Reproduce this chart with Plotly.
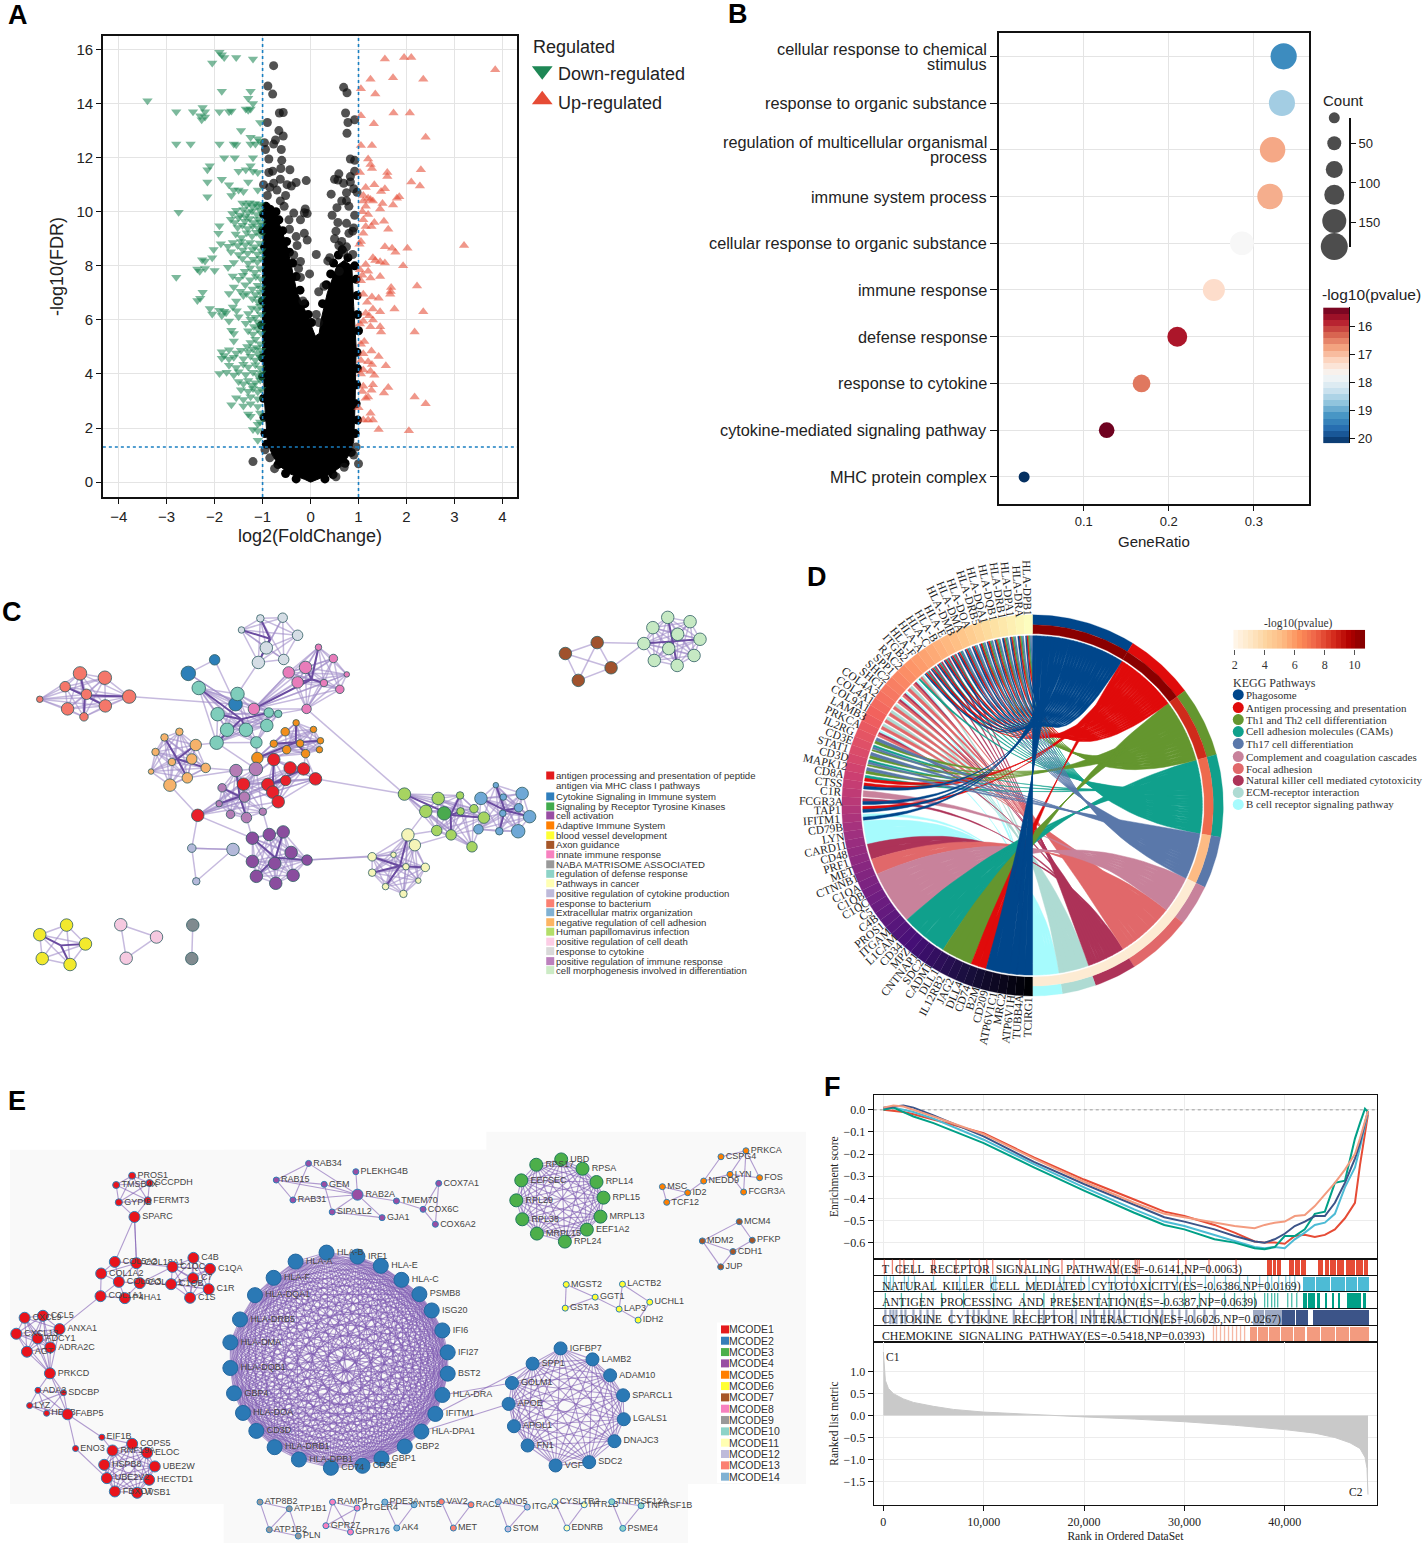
import math
import numpy as np
import plotly.graph_objects as go
from plotly.colors import sample_colorscale

W, H = 1426, 1546
SANS = "Liberation Sans"
SERIF = "Liberation Serif"

# ---------------------------------------------------------------- panel A data
black_outline_x = [0,-0.12,-0.42,-0.65,-0.8,-0.9,-0.96,-1,-1,-0.98,-0.92,-0.78,-0.62,-0.5,-0.4,-0.28,-0.1,0.02,
                   0.1,0.18,0.22,0.35,0.55,0.7,0.86,0.9,0.95,0.93,0.9,0.8,0.65,0.42,0.12,0]
black_outline_y = [0,0.1,0.3,0.6,1,1.5,3,5,8,9.5,10.3,10.2,9.4,8.8,8,7,6.3,5.8,
                   5.4,5.5,6,7,8,8.2,8,6.5,5,3,1.5,1,0.6,0.3,0.1,0]
ns_edge = [(-0.98,9.9),(-0.93,10.2),(-1,9.3),(-0.96,8.7),(-0.72,10.0),(-0.66,9.7),(-0.58,9.3),(-0.5,8.9),(-0.44,8.5),(-0.37,8.1),
    (-0.3,7.6),(-0.22,7.1),(-0.12,6.6),(-0.05,6.2),(0.02,5.9),(0.25,6.6),(0.33,7.3),(0.42,7.7),(0.48,8.1),(0.58,8.4),(0.66,8.6),
    (0.78,8.3),(0.92,8.0),(0.95,7.5),(0.97,6.9),(0.98,6.2),(1,5.6),(0.97,4.8),(0.98,4.2),(0.96,3.6),(0.95,2.9),(0.98,2.3),(0.93,1.8),
    (-1,6.7),(-1.02,5.8),(-1,4.6),(-1,3.9),(-0.98,3.1),(-0.97,2.4),(-0.95,1.8),(-0.92,1.4),(0.85,1.1),(0.72,0.7),(-0.68,0.65),
    (-0.52,0.32),(0.47,0.28),(-0.3,0.12),(0.3,0.12)]
ns_points = [(-0.77,15.4),(-0.89,14.65),(-0.79,14.35),(0.69,14.6),(0.76,14.4),(-0.57,13.67),(-0.65,13.65),(0.73,13.65),
    (-0.9,13.3),(0.78,13.3),(0.92,13.4),(-0.66,13),(-0.57,12.8),(0.76,12.9),(-0.73,12.65),(-0.96,12.55),(-0.77,12.5),
    (-0.61,12.3),(-0.94,12.3),(-0.87,11.95),(-0.6,11.9),(0.83,11.95),(0.92,11.9),(-0.43,11.55),(-0.62,11.6),(-0.79,11.5),
    (-0.87,11.45),(0.59,11.4),(0.92,11.5),(0.83,11.3),(0.5,11.2),(0.57,11.17),(-0.63,11.2),(-0.09,11.15),(-0.3,11.08),
    (-0.49,11),(-0.4,10.95),(-0.98,11),(-0.77,11.05),(0.69,11.05),(0.83,11.1),(0.9,10.85),(0.43,10.65),(0.75,10.7),
    (0.97,10.72),(-0.52,10.6),(-0.63,10.4),(0.75,10.4),(0.55,10.15),(-0.11,10.1),(-0.35,9.95),(-0.07,9.93),(-0.13,9.96),
    (0.45,9.87),(0.92,9.87),(-0.21,9.7),(0.57,9.6),(0.75,9.57),(-0.44,9.35),(0.53,9.28),(-0.13,9.2),(-0.3,9.08),(0.88,9.28),
    (0.5,9.0),(0.59,8.75),(-0.28,8.75),(-0.07,8.95),(0.12,8.42),(0.36,8.18),(0.69,8.5),(0.88,8.42),(-0.21,8.16),(-0.02,7.7),
    (-0.21,7.57),(-0.16,6.7),(0.17,7.04),(0.28,7.24),(-1.2,0.76),(1,0.68),(0.53,0.2),(0.12,6.2),(0.17,5.9),(-0.85,10.9),
    (-0.9,10.6),(-0.7,10.8),(0.8,10.2),(0.65,10.4),(0.9,9.4),(0.8,9.2),(0.65,8.9),(0.75,8.7),(-0.95,1.2),(-0.85,0.9),
    (0.95,1.3),(0.9,1.0),(-0.75,0.5),(0.7,0.55),(0.4,8.3),(0.6,7.8),(-0.35,8.4),(-0.25,7.9),(-0.45,9.7),(-0.55,10.2)]
down_points = [(-1.9,15.9),(-1.85,15.8),(-1.8,15.7),(-1.55,15.7),(-1.2,15.65),(-2.05,15.5),(-1.85,14.45),(-1.25,14.45),
    (-1.3,14.2),(-3.4,14.1),(-2.25,13.85),(-1.35,13.8),(-1.2,14.0),(-1.3,13.75),(-1.25,13.8),(-2.8,13.7),(-2.45,13.7),
    (-2.2,13.7),(-1.9,13.7),(-1.7,13.7),(-1.65,13.72),(-2.3,13.55),(-2.2,13.5),(-2.27,13.4),(-1.05,13.3),(-1.45,13.0),
    (-1.25,12.75),(-1.1,12.7),(-2.8,12.5),(-2.5,12.5),(-1.9,12.5),(-1.6,12.5),(-1.55,12.48),(-1.25,12.5),(-1.15,12.5),
    (-1.05,12.6),(-1.8,12.0),(-1.58,12.0),(-1.2,12.0),(-2.1,11.7),(-2.15,11.55),(-1.25,11.7),(-1.2,11.5),(-1.5,11.5),
    (-1.35,11.55),(-1.1,11.45),(-1.85,11.2),(-2.15,11.1),(-1.7,11.0),(-1.3,11.1),(-1.6,10.8),(-1.5,10.8),(-1.4,10.75),
    (-1.1,10.8),(-2.15,10.55),(-1.65,10.6),
    (-1.42,10.32),(-1.33,10.25),(-1.27,10.33),(-1.21,10.18),(-1.16,10.3),(-1.1,10.22),(-1.05,10.28),
    (-2.75,9.98),(-1.63,9.93),(-1.55,10.05),(-1.47,9.88),(-1.4,10.08),(-1.36,9.82),(-1.3,9.97),(-1.22,10.03),(-1.12,9.9),(-1.06,10.06),
    (-1.66,9.72),(-1.58,9.6),(-1.5,9.78),(-1.37,9.65),(-1.27,9.75),(-1.19,9.6),(-1.1,9.72),(-1.04,9.62),
    (-1.9,9.48),(-1.52,9.42),(-1.42,9.5),(-1.31,9.38),(-1.21,9.47),(-1.09,9.4),(-1.03,9.5),
    (-1.92,9.2),(-1.56,9.18),(-1.44,9.05),(-1.33,9.22),(-1.22,9.1),(-1.13,9.24),(-1.04,9.12),
    (-1.87,8.82),(-1.72,8.72),(-1.62,8.86),(-1.52,8.75),(-1.45,8.9),(-1.36,8.78),(-1.26,8.86),(-1.16,8.7),(-1.06,8.84),
    (-2.02,8.6),(-1.66,8.52),(-1.5,8.42),(-1.41,8.58),(-1.31,8.46),(-1.21,8.6),(-1.11,8.44),(-1.03,8.56),
    (-2.26,8.22),(-2.2,8.18),(-2.05,8.3),(-1.6,8.12),(-1.42,8.27),(-1.3,8.1),(-1.2,8.24),(-1.11,8.14),(-1.04,8.28),
    (-2.36,7.88),(-2.31,7.8),(-2.2,7.9),(-2.0,7.83),(-1.72,7.95),(-1.37,7.8),(-1.26,7.92),(-1.16,7.76),(-1.05,7.9),
    (-2.8,7.58),(-1.62,7.62),(-1.5,7.5),(-1.41,7.65),(-1.26,7.48),(-1.14,7.6),(-1.04,7.52),
    (-1.6,7.22),(-1.36,7.3),(-1.21,7.14),(-1.1,7.28),(-1.03,7.18),
    (-2.25,7.02),(-1.7,6.98),(-1.46,7.06),(-1.4,6.9),(-1.33,6.98),(-1.15,6.94),(-1.05,7.02),
    (-2.36,6.72),(-2.3,6.8),(-1.55,6.7),(-1.21,6.78),(-1.1,6.68),(-1.03,6.8),
    (-2.1,6.42),(-1.9,6.36),(-1.8,6.32),(-1.62,6.48),(-1.54,6.34),(-1.22,6.44),(-1.11,6.38),(-1.05,6.5),
    (-2.05,6.22),(-1.85,6.16),(-1.76,6.26),(-1.5,6.12),(-1.3,6.24),(-1.15,6.1),(-1.03,6.2),
    (-1.7,5.96),(-1.35,5.88),(-1.25,6.02),(-1.1,5.92),(-1.04,5.8),(-1.18,5.76),
    (-1.65,5.62),(-1.6,5.5),(-1.3,5.6),(-1.2,5.48),(-1.1,5.66),(-1.03,5.52),
    (-1.6,5.22),(-1.25,5.16),(-1.15,5.28),(-1.05,5.12),(-1.32,5.02),(-1.12,4.98),
    (-1.85,4.82),(-1.7,4.9),(-1.55,4.78),(-1.45,4.88),(-1.3,4.82),(-1.2,4.92),(-1.1,4.76),(-1.03,4.88),
    (-1.85,4.58),(-1.8,4.68),(-1.7,4.55),(-1.6,4.62),(-1.4,4.56),(-1.25,4.66),(-1.15,4.52),(-1.05,4.62),
    (-1.7,4.32),(-1.55,4.24),(-1.4,4.36),(-1.3,4.26),(-1.15,4.34),(-1.05,4.22),
    (-1.9,4.02),(-1.75,4.06),(-1.6,3.96),(-1.5,4.08),(-1.35,3.98),(-1.2,4.06),(-1.1,3.94),(-1.03,4.04),
    (-1.5,3.72),(-1.4,3.64),(-1.3,3.76),(-1.15,3.68),(-1.05,3.78),(-1.22,3.58),
    (-1.45,3.42),(-1.3,3.36),(-1.2,3.46),(-1.1,3.34),(-1.03,3.44),
    (-1.55,3.12),(-1.4,3.06),(-1.25,3.16),(-1.1,3.08),(-1.65,2.86),(-1.4,2.82),(-1.25,2.9),(-1.1,2.8),
    (-1.3,2.52),(-1.25,2.44),(-1.05,2.56),(-1.1,2.14),(-1.05,2.22),(-1.2,1.95),(-1.1,1.9),(-1.1,1.55)]
up_points = [(3.85,15.25),(1.55,15.65),(1.95,15.7),(2.1,15.7),(1.25,14.9),(1.72,14.95),(2.35,14.9),(1.05,14.55),(1.35,14.35),
    (1.73,13.65),(2.07,13.65),(1.05,13.55),(1.32,13.25),(2.4,12.75),(1.05,12.45),(1.28,12.45),(1.2,11.95),(1.25,11.75),(1.28,11.6),
    (2.3,11.55),(1.6,11.45),(1.6,11.3),(1.03,11.45),(2.1,11.1),(2.28,10.95),(1.15,10.9),(1.33,11.0),(1.55,10.85),(1.47,10.75),
    (1.1,10.6),(1.85,10.55),(1.8,10.5),(1.1,10.4),(1.2,10.5),(1.25,10.45),(1.5,10.3),(1.72,10.25),(1.3,10.4),(1.15,10.2),
    (1.45,10.1),(1.08,10),(1.2,9.9),(1.1,9.7),(1.33,9.6),(1.53,9.65),(1.27,9.45),(1.15,9.45),(1.62,9.35),(1.1,9.2),(1.05,8.9),
    (1.02,8.8),(1.55,8.7),(1.7,8.65),(1.77,8.5),(2.02,8.65),(3.2,8.75),(1.3,8.3),(1.35,8.2),(1.45,8.15),(1.55,8.1),(1.15,8.05),
    (1.93,8),(1.03,7.85),(1.2,7.8),(1.08,7.65),(1.25,7.55),(1.45,7.6),(1.05,7.45),(1.68,7.2),(1.67,7.05),(2.22,7.25),(1.1,6.95),
    (1.28,6.85),(1.42,6.8),(1.66,6.95),(1.18,6.65),(1.75,6.4),(1.3,6.4),(2.35,6.3),(1.15,6.25),(1.45,6.3),(1.22,6.15),(1.3,6),
    (1.1,5.95),(1.03,5.85),(1.25,5.75),(1.45,5.75),(2.17,5.55),(1.47,5.55),(1.05,5.1),(1.12,5.2),(1.27,4.85),(1.1,4.75),(1.42,4.65),
    (1.05,4.5),(1.2,4.45),(1.28,4.35),(1.57,4.3),(1.1,4.15),(1.25,4.1),(1.05,4),(1.33,3.95),(1.3,3.6),(1.1,3.55),(1.62,3.5),
    (1.27,3.4),(1.08,3.35),(1.53,3.3),(1.2,3.15),(2.17,3.15),(1.15,3.1),(2.4,2.9),(1,2.75),(1.25,2.55),(1.2,2.3),(1.1,2.3),(1.3,2.3),
    (1.42,1.95),(2.05,1.9)]

# ---------------------------------------------------------------- panel B data
go_terms = [["cellular response to chemical", "stimulus"], ["response to organic substance"],
            ["regulation of multicellular organismal", "process"], ["immune system process"],
            ["cellular response to organic substance"], ["immune response"], ["defense response"],
            ["response to cytokine"], ["cytokine-mediated signaling pathway"], ["MHC protein complex"]]
go_ratio = [0.335, 0.333, 0.322, 0.319, 0.286, 0.253, 0.21, 0.168, 0.127, 0.03]
go_count = [172, 171, 165, 164, 147, 130, 108, 86, 65, 18]
go_logp = [19.3, 18.6, 16.8, 16.85, 17.75, 17.3, 15.75, 16.45, 15.35, 20.2]
count_legend = [18, 50, 83, 115, 148, 180]

# ---------------------------------------------------------------- panel C data
c_clusters = [
 ("#f4776a", [(157,255),(207,268),(127,295),(170,318),(208,353),(132,362),(165,386),(76,333),(256,325)], [12,12,9,9,11,11,7,5,12]),
 ("#2c7fb8", [(375,255),(428,214),(470,348)], [13,9,12]),
 ("#7fcdbb", [(396,299),(474,317),(434,378),(453,425),(491,425),(533,412),(432,464),(512,463),(537,373),(556,377)], [12,12,12,12,12,11,12,10,8,6]),
 ("#d5dde5", [(520,89),(565,87),(482,124),(595,140),(532,178),(567,213),(516,222)], [6,8,5,9,11,9,11]),
 ("#e87cba", [(611,237),(577,252),(637,176),(667,210),(595,282),(694,258),(648,284),(680,303),(507,362),(613,362)], [11,10,5,7,10,4,6,7,10,8]),
 ("#f28e1c", [(514,510),(570,431),(592,404),(627,424),(641,458),(600,466),(547,467),(573,485),(611,497),(639,485)], [10,7,5,5,5,6,6,7,7,5]),
 ("#f6b26b", [(327,448),(357,431),(390,471),(309,492),(342,522),(382,513),(410,540),(300,551),(373,570),(338,592)], [6,6,10,6,6,9,8,4,9,11]),
 ("#e8202a", [(547,515),(580,540),(607,543),(631,573),(571,578),(486,589),(535,590),(545,613),(556,642),(394,683)], [11,11,11,11,9,11,11,11,11,11]),
 ("#b47cb5", [(471,548),(511,543),(443,600),(488,628),(437,648),(460,680),(492,690),(525,672)], [11,12,7,9,5,7,9,6]),
 ("#8a4d9e", [(504,752),(538,741),(566,733),(582,795),(614,818),(504,822),(549,828),(586,864),(512,867),(551,888)], [11,11,11,11,9,11,11,11,11,11]),
 ("#b4b9da", [(382,782),(465,786),(391,882)], [7,11,6]),
 ("#f5f5b8", [(817,742),(831,773),(745,808),(788,802),(745,856),(813,838),(852,840),(838,880),(772,898),(808,920)], [11,10,7,4,6,5,7,4,5,6]),
 ("#a6d461", [(810,619),(878,632),(922,623),(853,671),(923,671),(950,663),(970,690),(875,729),(904,742),(946,778)], [11,11,6,11,6,7,10,9,9,9]),
 ("#4aaa4e", [(890,677)], [12]),
 ("#6fa8d6", [(964,632),(1047,617),(994,592),(1009,628),(1040,660),(1008,677),(1062,687),(959,725),(1001,731),(1039,731)], [11,11,4,5,7,5,11,8,6,12]),
 ("#a0522d", [(1134,195),(1198,162),(1226,238),(1160,276)], [11,11,11,11]),
 ("#c6e9c3", [(1292,165),(1310,117),(1340,86),(1385,99),(1405,152),(1360,137),(1342,180),(1393,201),(1359,231),(1313,216)], [11,11,11,11,11,11,11,11,11,11]),
 ("#f2e92d", [(76,1043),(130,1014),(168,1071),(81,1115),(137,1133)], [11,11,11,11,11]),
 ("#f5c9e0", [(239,1013),(311,1050),(250,1114)], [11,11,11]),
 ("#808a8f", [(384,1014),(382,1115)], [11,11]),
]
c_links = [((256,325),(470,348)),((613,362),(810,619)),((631,573),(810,619)),((394,683),(382,782)),((394,683),(504,752)),
 ((614,818),(745,808)),((1226,238),(1292,165)),((1198,162),(1292,165)),((470,348),(375,255)),((470,348),(396,299)),((470,348),(507,362)),
 ((507,362),(577,252)),((516,222),(474,317)),((613,362),(648,284)),((507,362),(533,412)),((512,463),(511,543)),((432,464),(390,471)),
 ((432,464),(511,543)),((410,540),(471,548)),((373,570),(471,548)),((338,592),(394,683)),((492,690),(504,752)),((525,672),(538,741)),
 ((465,786),(504,822)),((382,782),(465,786)),((556,642),(525,672)),((614,818),(788,802)),((817,742),(853,671)),((817,742),(875,729)),
 ((904,742),(959,725)),((970,690),(1008,677)),((950,663),(964,632)),((556,377),(613,362)),((514,510),(512,463)),((547,515),(600,466)),
 ((631,573),(600,466)),((607,543),(611,497)),((486,589),(488,628)),((535,590),(488,628)),((831,773),(904,742))]
c_legend_labels = ["antigen processing and presentation of peptide", "antigen via MHC class I pathways", "Cytokine Signaling in Immune system",
 "Signaling by Receptor Tyrosine Kinases", "cell activation", "Adaptive Immune System", "blood vessel development", "Axon guidance",
 "innate immune response", "NABA MATRISOME ASSOCIATED", "regulation of defense response", "Pathways in cancer",
 "positive regulation of cytokine production", "response to bacterium", "Extracellular matrix organization",
 "negative regulation of cell adhesion", "Human papillomavirus infection", "positive regulation of cell death", "response to cytokine",
 "positive regulation of immune response", "cell morphogenesis involved in differentiation"]
c_legend_colors = ["#e31a1c", None, "#2f7ebc", "#41ab4d", "#984ea3", "#ff7f00", "#ffff33", "#a65628", "#f781bf", "#999999", "#8dd3c7",
 "#ffffb3", "#bebada", "#fb8072", "#80b1d3", "#fdb462", "#b3de69", "#fccde5", "#d9d9d9", "#bc80bd", "#ccebc5"]
c_legend_y = [777,787,798,808,817,827,837,846.5,856,866,875.5,885,895,905,914,924,933.5,943.5,953,963,972]

# ---------------------------------------------------------------- panel D data
pathways = ["Phagosome", "Antigen processing and presentation", "Th1 and Th2 cell differentiation", "Cell adhesion molecules (CAMs)",
            "Th17 cell differentiation", "Complement and coagulation cascades", "Focal adhesion",
            "Natural killer cell mediated cytotoxicity", "ECM-receptor interaction", "B cell receptor signaling pathway"]
pathway_colors = ["#00468b", "#e00b0b", "#64962f", "#10a08c", "#5a78aa", "#c8829b", "#e1686a", "#ad3358", "#aedbd3", "#a6fbfd"]
pathway_pvalue_colors = ["#8a0000", "#8a0000", "#cf2b1b", "#ee6a4d", "#fdbb84", "#fdebd3", "#fdebd3", "#fdebd3", "#fdebd3", "#fdebd3"]
pathway_arcs = [31.7, 21.3, 21.5, 25.1, 15.8, 12.6, 19.8, 12.9, 10.3, 9.0]
genes = [("TCIRG1",[0]),("TUBB4A",[0]),("ATP6V1H",[0]),("MRC2",[0]),("ATP6V1C1",[0]),("CD209",[0]),
 ("B2M",[1]),("CD74",[1]),("DLL4",[2]),("JAG2",[2]),("IL12RB2",[2]),("DLL1",[2]),
 ("CADM1",[3]),("SDC2",[3]),("CNTNAP1",[3]),("MPZ",[3]),("CD34",[3]),("L1CAM",[3]),
 ("ITGAM",[5]),("PROS1",[5]),("C4B",[5]),("C5",[5]),("C1QC",[5]),("C1QB",[5]),("C1QA",[5]),
 ("CTNNB1",[6]),("MET",[6]),("PRF1",[7]),("CD48",[7]),("CARD11",[9]),("LYN",[9]),("CD79B",[9]),
 ("IFITM1",[0,9]),("TAP1",[0,1]),("FCGR3A",[0,7]),("C1R",[5]),("CTSS",[0,1]),("CD8A",[1,3]),("MAPK12",[2,4]),("CD3D",[2,4,3]),("STAT1",[2,4]),
 ("CD3E",[2,4,3]),("IL2RG",[2,4]),("PRKCA",[6,7,9]),("LAMB3",[6,8]),("COL9A1",[6,8]),("COL4A1",[6,8]),("COL4A2",[6,8]),
 ("SHC1",[6,7,9]),("SHC2",[6,7,9]),("SPP1",[6,8]),("RAC2",[6,7,9]),("ITGB2",[3,6,8]),
 ("HLA-F",[0,1,3,7]),("HLA-A",[0,1,3,7]),("HLA-C",[0,1,3,7]),("HLA-B",[0,1,3,7]),("HLA-E",[0,1,3,7]),
 ("HLA-DMB",[0,1,3,4]),("HLA-DMA",[0,1,3,4]),("HLA-DOA",[0,1,3,4]),("HLA-DRB5",[0,1,2,3,4]),("HLA-DQA1",[0,1,2,3,4]),("HLA-DQB1",[0,1,2,3,4]),
 ("HLA-DRB1",[0,1,2,3,4]),("HLA-DPA1",[0,1,2,3,4]),("HLA-DRA",[0,1,2,3,4]),("HLA-DPB1",[0,1,2,3,4])]
first_strand_gene = 32
d_colorbar_ticks = [2, 4, 6, 8, 10]
d_legend_y = [696, 709, 721, 733, 745, 758, 770, 782, 794, 806]

# ---------------------------------------------------------------- panel E data
# columns: name, x, y in layout units (3 per pixel)
e_groups = [
 dict(color="#e8141c", line="#2f7fb5", size=7, names=["PROS1","TMSB4X","SCCPDH","GYPIB","FERMT3"],
      xs=[391,343,443,351,438], ys=[144,172,166,224,218], edges="all"),
 dict(color="#e8141c", line="#2f7fb5", size=11, names=["SPARC","COL5A2","COL18A1","COL1A2","COL6A3","COL4A1","COL1A1","P4HA1"],
      xs=[398,339,404,298,351,414,296,369], ys=[268,403,407,438,463,467,506,512],
      edges=[(0,2),(0,1)]),
 dict(color="#e8141c", line="#2f7fb5", size=11, names=["C4B","C1QC","C1QA","C7","C1QB","C1R","C1S"],
      xs=[575,512,625,574,508,621,565], ys=[391,418,424,452,470,485,511], edges="all"),
 dict(color="#e8141c", line="#2f7fb5", size=11, names=["CXCL9","CCL5","ANXA1","CXCL13","ADCY1","ADRA2C","AGT","PRKCD"],
      xs=[68,123,173,43,107,145,75,144], ys=[571,565,605,619,633,660,673,738], edges="all"),
 dict(color="#e8141c", line="#2f7fb5", size=6, names=["ADA2","SDCBP","LYZ","HEXB"], xs=[108,185,83,134], ys=[789,796,835,858], edges="all"),
 dict(color="#e8141c", line="#2f7fb5", size=11, names=["FABP5"], xs=[197], ys=[861], edges=[]),
 dict(color="#e8141c", line="#2f7fb5", size=6, names=["EIF1B","ENO3"], xs=[300,221], ys=[930,964], edges=[]),
 dict(color="#e8141c", line="#2f7fb5", size=11, names=["COPS5","ELOC","UBE2W","HECTD1","WSB1","FBXO7","UBE2V2","HSPB8","RNF19A"],
      xs=[391,436,459,442,406,339,315,307,332], ys=[950,977,1018,1058,1097,1093,1053,1013,970], edges="all"),
 dict(color="#984ea3", line="#2f7fb5", size=6, names=["RAB34","RAB15","PLEKHG4B","GEM","RAB31","SIPA1L2","GJA1","TMEM70"],
      xs=[921,824,1063,968,874,992,1142,1185], ys=[107,157,132,170,217,253,270,220],
      edges=[(0,1),(0,4),(1,4),(1,3),(3,5),(5,6)]),
 dict(color="#984ea3", line="#2f7fb5", size=11, names=["RAB2A"], xs=[1068], ys=[201], edges=[]),
 dict(color="#984ea3", line="#2f7fb5", size=6, names=["COX6C","COX7A1","COX6A2"], xs=[1265,1312,1302], ys=[245,167,290], edges="all"),
 dict(color="#2b79b5", line="#2468a0", size=15, names=["HLA-B","IRF1","HLA-E","HLA-C","PSMB8","ISG20","IFI6","IFI27","BST2","HLA-DRA","IFITM1",
      "HLA-DPA1","GBP2","GBP1","CD3E","CD74","HLA-DPB1","HLA-DRB1","CD3D","HLA-DOA","GBP4","HLA-DQB1","HLA-DMA","HLA-DRB5","HLA-DQA1","HLA-F","HLA-A"],
      xs=[975,1068,1138,1200,1254,1291,1323,1339,1339,1323,1302,1260,1210,1140,1083,988,892,819,764,724,697,686,686,715,760,816,882],
      ys=[375,387,415,457,500,549,609,675,739,803,860,913,958,994,1016,1022,997,960,911,857,798,722,645,576,503,451,402], edges="all"),
 dict(color="#2b79b5", line="#2468a0", size=13, names=["IGFBP7","LAMB2","ADAM10","SPARCL1","LGALS1","DNAJC3","SDC2","VGF","FN1","APOL1","APOE","GOLM1","SPP1"],
      xs=[1678,1774,1827,1866,1868,1840,1764,1663,1579,1538,1522,1532,1594],
      ys=[663,696,744,804,876,942,1005,1015,955,897,830,767,709], edges="all"),
 dict(color="#4daf4a", line="#1f7a5c", size=13, names=["UBD","RPSA","RPL14","RPL15","MRPL13","EEF1A2","RPL24","MRPL15","RPL38","RPL29","EEFSEC","RPS17"],
      xs=[1680,1744,1786,1807,1798,1757,1691,1607,1563,1545,1560,1605], ys=[95,123,163,210,267,306,342,318,275,218,158,111], edges="all"),
 dict(color="#ff7f00", line="#2f7fb5", size=6, names=["PRKCA","CSPG4","LYN","FOS","NEDD9","FCGR3A","ID2","MSC","TCF12"],
      xs=[2235,2160,2187,2276,2108,2228,2060,1984,1997], ys=[69,87,140,150,160,193,195,177,224],
      edges=[(1,0),(0,2),(0,3),(0,5),(2,3),(2,5),(2,4),(4,1),(4,6),(6,7),(6,8),(7,8)]),
 dict(color="#a65628", line="#2f7fb5", size=6, names=["MCM4","MDM2","PFKP","CDH1","JUP"], xs=[2215,2104,2254,2196,2159], ys=[282,340,338,372,418],
      edges=[(0,1),(0,2),(2,3),(3,1),(1,4),(4,3)]),
 dict(color="#ffff33", line="#2f7fb5", size=6, names=["MGST2","GSTA3","GGT1","LACTB2","LAP3","UCHL1","IDH2"],
      xs=[1695,1692,1782,1864,1854,1946,1911], ys=[471,542,509,470,545,524,578], edges=[(0,1),(0,2),(1,2),(2,4),(4,3),(3,5),(5,6),(6,4)]),
 dict(color="#999999", line="#2f7fb5", size=6, names=["ATP8B2","ATP1B1","ATP1B2","PLN"], xs=[775,863,803,890], ys=[1125,1145,1208,1227],
      edges=[(0,1),(0,2),(1,2),(2,3),(1,3)]),
 dict(color="#f781bf", line="#2f7fb5", size=6, names=["RAMP1","PTGER4","GPR27","GPR176"], xs=[993,1067,973,1047], ys=[1125,1143,1196,1215],
      edges=[(0,1),(0,2),(0,3),(1,2),(1,3),(2,3)]),
 dict(color="#80b1d3", line="#2f7fb5", size=6, names=["PDE3A","NT5E","AK4"], xs=[1150,1238,1186], ys=[1125,1133,1203], edges="all"),
 dict(color="#fb8072", line="#2f7fb5", size=6, names=["VAV2","RAC2","MET"], xs=[1320,1409,1356], ys=[1124,1133,1203], edges="all"),
 dict(color="#bebada", line="#2f7fb5", size=6, names=["ANO5","ITGAX","STOM"], xs=[1491,1578,1520], ys=[1124,1140,1206], edges="all"),
 dict(color="#ffffb3", line="#2f7fb5", size=6, names=["CYSLTR2","HTR2B","EDNRB"], xs=[1661,1749,1697], ys=[1124,1133,1203], edges="all"),
 dict(color="#8dd3c7", line="#2f7fb5", size=6, names=["TNFRSF12A","TNFRSF1B","PSME4"], xs=[1832,1920,1865], ys=[1124,1136,1204], edges="all"),
]
e_links = [((398,268),(404,407)),((339,403),(298,438)),((339,403),(351,463)),((339,403),(404,407)),((404,407),(414,467)),((404,407),(351,463)),
 ((298,438),(351,463)),((298,438),(296,506)),((351,463),(296,506)),((351,463),(369,512)),((296,506),(369,512)),((414,467),(369,512)),((414,467),(351,463)),
 ((298,438),(404,407)),((404,407),(512,418)),((414,467),(508,470)),((414,467),(512,418)),((296,506),(173,605)),((398,268),(438,218)),((398,268),(351,224)),
 ((144,738),(108,789)),((144,738),(185,796)),((144,738),(197,861)),((108,789),(197,861)),((185,796),(197,861)),((83,835),(197,861)),((134,858),(197,861)),
 ((197,861),(300,930)),((197,861),(221,964)),((300,930),(391,950)),((221,964),(315,1053)),((300,930),(332,970)),
 ((1068,201),(921,107)),((1068,201),(824,157)),((1068,201),(1063,132)),((1068,201),(968,170)),((1068,201),(874,217)),((1068,201),(992,253)),((1068,201),(1142,270)),
 ((1068,201),(1185,220)),((1185,220),(1265,245)),((1302,860),(1594,709)),((1323,803),(1532,767)),((1260,913),(1522,830))]
mcode_labels = ["MCODE%d" % i for i in range(1, 15)]
mcode_colors = ["#e41a1c","#377eb8","#4daf4a","#984ea3","#ff7f00","#ffff33","#a65628","#f781bf","#999999","#8dd3c7","#ffffb3","#bebada","#fb8072","#80b1d3"]

# ---------------------------------------------------------------- panel F data
es_rank = [0,1000,2000,3000,5000,10000,15000,20000,25000,28000,30000,33000,35000,37000,38000,39000,40000,41000,42000,43000,44000,45000,46000,47000,47500,48000,48300]
es_red = [0,-0.005,-0.01,-0.02,-0.045,-0.105,-0.215,-0.315,-0.405,-0.46,-0.48,-0.52,-0.555,-0.595,-0.6,-0.6,-0.605,-0.57,-0.565,-0.575,-0.565,-0.54,-0.49,-0.42,-0.25,-0.1,-0.02]
es_navy = [0.01,0.015,0.02,0.01,-0.025,-0.12,-0.235,-0.335,-0.43,-0.485,-0.505,-0.54,-0.57,-0.595,-0.6,-0.585,-0.56,-0.525,-0.505,-0.48,-0.48,-0.42,-0.33,-0.22,-0.15,-0.06,-0.005]
es_sky = [0.005,0.01,0,-0.01,-0.04,-0.135,-0.245,-0.35,-0.45,-0.505,-0.525,-0.565,-0.59,-0.62,-0.625,-0.62,-0.625,-0.585,-0.555,-0.52,-0.51,-0.47,-0.35,-0.26,-0.17,-0.07,-0.01]
es_green = [0,0.01,-0.01,-0.03,-0.06,-0.15,-0.26,-0.365,-0.465,-0.52,-0.54,-0.585,-0.6,-0.625,-0.63,-0.62,-0.57,-0.57,-0.54,-0.47,-0.46,-0.33,-0.32,-0.13,-0.06,0.005,-0.01]
es_salmon = [0.01,0.02,0.015,0,-0.03,-0.11,-0.22,-0.325,-0.42,-0.47,-0.485,-0.51,-0.525,-0.535,-0.52,-0.51,-0.505,-0.48,-0.475,-0.435,-0.385,-0.33,-0.27,-0.2,-0.13,-0.05,-0.005]
metric_rank = [0,50,100,200,500,1000,2000,3000,5000,7000,10000,15000,17000,20000,25000,30000,35000,40000,43000,45000,46500,47500,48000,48200,48300]
metric_value = [1.45,1.2,1.0,0.8,0.62,0.5,0.38,0.3,0.21,0.14,0.08,0.02,0,-0.03,-0.08,-0.14,-0.22,-0.32,-0.4,-0.5,-0.62,-0.75,-0.95,-1.2,-1.8]
es_colors = ["#e64b35", "#4dbbd5", "#00a087", "#3c5488", "#f39b7f"]
gene_set_labels = ["T  CELL  RECEPTOR  SIGNALING  PATHWAY(ES=-0.6141,NP=0.0063)",
                   "NATURAL  KILLER  CELL  MEDIATED  CYTOTOXICITY(ES=-0.6386,NP=0.0169)",
                   "ANTIGEN  PROCESSING  AND  PRESENTATION(ES=-0.6387,NP=0.0639)",
                   "CYTOKINE  CYTOKINE  RECEPTOR  INTERACTION(ES=-0.6026,NP=0.0267)",
                   "CHEMOKINE  SIGNALING  PATHWAY(ES=-0.5418,NP=0.0393)"]
hits_sparse = [
 [100,900,1650,2050,3000,4900,5100,7250,8600,9550,10300,10900,13600,14200,16500,17800,19000,22650,23000,23400,25100,25300,25500,29400,30150,32450,35150],
 [100,300,700,1000,2100,2500,3100,5000,7600,8300,10700,11000,11200,14300,15200,17600,18000,19700,20500,22500,23100,24300,25000,26600,29300,30100,30600,32100,33000,34100,35500,36300,37500,38300,38700,39400,40100,40500,41000],
 [200,1800,3800,5800,8000,11000,14000,16000,17000,19000,21500,22500,24000,26000,28000,30000,31500,32500,34000,35000,36000,37000,38000,38300,38700,39000,39300,40300,40700,41200],
 [200,700,1000,1300,1800,2200,3000,3700,4400,5000,6800,8400,9000,9500,10500,13000,14000,15500,16000,17000,18800,19200,20600,21000,22000,22500,23000,23500,24000,26500,27200,27800,28800,29500,30200,31000,32000,33000],
 [32900,33200,33600,34000,34400,34800,35200,35600,36000],
]
hits_blocks = [
 [(38200,38700),(38800,39100),(39200,39650),(40400,40900),(41000,41500),(41600,42100),(43300,43800),(44000,44400),(44500,45100),(45200,45900),(46100,47000),(47100,47800),(47900,48300)],
 [(41800,43000),(43100,44500),(44600,46000),(46100,47200),(47300,48350)],
 [(41800,42200),(42300,43000),(43200,43500),(44000,44200),(44700,44900),(45300,45500),(46200,47600),(47800,48100)],
 [(36800,37900),(38000,39700),(39700,41000),(41100,42300),(42800,48350)],
 [(36500,37200),(37300,38300),(38400,39500),(39600,40800),(40900,42000),(42200,43500),(43600,45000),(45100,46400),(46500,48350)],
]
hit_block_opacity = [[1]*13, [1]*5, [1]*8, [0.5,0.5,1,1,1], [1]*9]
f_xticks = [0, 10000, 20000, 30000, 40000]

# ---------------------------------------------------------------- helpers
traces, layout_axes, annotations, shapes = [], {}, [], []
axis_count = 0


def new_axes(xpx, ypx, xopts, yopts):
    """Create an axis pair occupying the pixel box xpx, ypx; returns trace refs."""
    global axis_count
    axis_count += 1
    n = "" if axis_count == 1 else str(axis_count)
    xo = dict(domain=[xpx[0] / W, xpx[1] / W], anchor="y" + n, **xopts)
    yo = dict(domain=[1 - ypx[1] / H, 1 - ypx[0] / H], anchor="x" + n, **yopts)
    layout_axes["xaxis" + n] = xo
    layout_axes["yaxis" + n] = yo
    return dict(xaxis="x" + n, yaxis="y" + n)


def note(x, y, text, size=12, font=SANS, color="#222", anchor="left", angle=0, bold=False):
    if bold:
        text = "<b>%s</b>" % text
    if anchor == "left":
        x -= 2.5
    elif anchor == "right":
        x += 2.5
    annotations.append(dict(x=x / W, y=1 - y / H, xref="paper", yref="paper", text=text, showarrow=False, xanchor=anchor,
                            yanchor="middle", textangle=angle, font=dict(family=font, size=size, color=color)))


hidden = dict(visible=False)
framed = dict(showline=True, linecolor="#111", linewidth=1.5, mirror=True, zeroline=False, ticks="outside", tickcolor="#111",
              tickfont=dict(family=SANS, size=15, color="#222"))

# ---------------------------------------------------------------- panel A
ax = new_axes((101, 516), (36, 498),
              dict(framed, range=[-4.33, 4.31], tickvals=list(range(-4, 5)), ticktext=["−4","−3","−2","−1","0","1","2","3","4"],
                   showgrid=True, gridcolor="#e4e4e4", title=dict(text="log2(FoldChange)", font=dict(family=SANS, size=18, color="#222"), standoff=6)),
              dict(framed, range=[-0.55, 16.5], tickvals=list(range(0, 17, 2)),
                   showgrid=True, gridcolor="#e4e4e4", title=dict(text="-log10(FDR)", font=dict(family=SANS, size=18, color="#222"), standoff=8)))
traces.append(go.Scatter(x=black_outline_x, y=black_outline_y, mode="lines", fill="toself", fillcolor="#000", line=dict(color="#000", width=1), hoverinfo="skip", **ax))
traces.append(go.Scatter(x=[p[0] for p in ns_edge], y=[p[1] for p in ns_edge], mode="markers",
                         marker=dict(size=9, color="#000", line=dict(width=0)), **ax))
traces.append(go.Scatter(x=[p[0] for p in ns_points], y=[p[1] for p in ns_points], mode="markers",
                         marker=dict(size=9, color="rgba(15,15,15,0.72)", line=dict(width=0)), **ax))
traces.append(go.Scatter(x=[p[0] for p in down_points], y=[p[1] for p in down_points], mode="markers",
                         marker=dict(symbol="triangle-down", size=9, color="rgba(30,135,85,0.58)", line=dict(width=0)), **ax))
traces.append(go.Scatter(x=[p[0] for p in up_points], y=[p[1] for p in up_points], mode="markers",
                         marker=dict(symbol="triangle-up", size=9, color="rgba(230,75,53,0.58)", line=dict(width=0)), **ax))
for xs, ys in [([-1, -1], [-0.55, 16.5]), ([1, 1], [-0.55, 16.5]), ([-4.33, 4.31], [1.3, 1.3])]:
    traces.append(go.Scatter(x=xs, y=ys, mode="lines", line=dict(color="#1a7fc1", width=1.6, dash="dot"), hoverinfo="skip", **ax))
note(532, 47, "Regulated", 18)
note(557, 74, "Down-regulated", 18)
note(557, 103, "Up-regulated", 18)

# ---------------------------------------------------------------- panel B
nterms = len(go_terms)
yr = [nterms - 0.5 + 0.08, -0.5]
ax = new_axes((998, 1309), (33, 505),
              dict(framed, range=[0, 0.365], tickvals=[0.1, 0.2, 0.3], ticktext=["0.1","0.2","0.3"], showgrid=True, gridcolor="#e4e4e4",
                   tickfont=dict(family=SANS, size=13, color="#222"),
                   title=dict(text="GeneRatio", font=dict(family=SANS, size=15, color="#222"), standoff=8)),
              dict(framed, range=yr, tickvals=list(range(nterms)), showticklabels=False, showgrid=True, gridcolor="#e4e4e4", ticklen=7))
traces.append(go.Scatter(x=go_ratio, y=list(range(nterms)), mode="markers",
                         marker=dict(size=[11 + (c - 18) * 16 / 162 for c in go_count], opacity=1, color=go_logp, colorscale="RdBu", cmin=15.3, cmax=20.2, line=dict(width=0)), **ax))
row_px = 472 / (yr[0] - yr[1])
for i, lines in enumerate(go_terms):
    yc = 33 + (i + 0.5) * row_px
    for k, line in enumerate(lines):
        note(986, yc + (k - (len(lines) - 1) / 2) * 15, line, 16.3, anchor="right")
ax = new_axes((1322, 1349), (118, 247),
              dict(hidden, range=[0, 1]),
              dict(range=[180, 18], side="right", showline=True, linecolor="#111", linewidth=1.5, ticks="outside", tickcolor="#111", showgrid=False, zeroline=False,
                   tickvals=[50, 100, 150], tickfont=dict(family=SANS, size=13, color="#222")))
traces.append(go.Scatter(x=[0.45] * 6, y=count_legend, mode="markers", cliponaxis=False,
                         marker=dict(size=[11, 14, 17, 20, 24, 27], opacity=1, color="#4d4d4d", line=dict(width=0)), **ax))
note(1323, 101, "Count", 15)
ax = new_axes((1323, 1349), (308, 444),
              dict(hidden, range=[0, 1]),
              dict(range=[20.18, 15.32], side="right", showline=True, linecolor="#111", linewidth=1, ticks="outside", tickcolor="#111", showgrid=False, zeroline=False,
                   tickvals=[16, 17, 18, 19, 20], tickfont=dict(family=SANS, size=13, color="#222")))
band_edges = np.linspace(15.32, 20.18, 23)
band_centers = (band_edges[:-1] + band_edges[1:]) / 2
traces.append(go.Heatmap(x=[0.5], y=band_centers.tolist(), z=[[v] for v in band_centers], colorscale="RdBu", zmin=15.3, zmax=20.2, showscale=False, hoverinfo="skip", **ax))
note(1322, 295, "-log10(pvalue)", 15.5)

# ---------------------------------------------------------------- panel C (layout units: 2.01 / 3.01 per pixel)
ax = new_axes((0, 780), (590, 1010), dict(hidden, range=[0, 780 * 2.01]), dict(hidden, range=[420 * 3.01, 0]))
lx, ly, hx, hy = [], [], [], []
for color, pts, sizes in c_clusters:
    n = len(pts)
    for i in range(n):
        for j in range(i + 1, n):
            lx += [pts[i][0], pts[j][0], None]
            ly += [pts[i][1], pts[j][1], None]
    if n >= 5:
        cx = sum(p[0] for p in pts) / n
        cy = sum(p[1] for p in pts) / n
        for p in pts[::2]:
            hx += [cx, p[0], None]
            hy += [cy, p[1], None]
for a, b in c_links:
    lx += [a[0], b[0], None]
    ly += [a[1], b[1], None]
traces.append(go.Scatter(x=lx, y=ly, mode="lines", line=dict(color="rgba(160,140,200,0.6)", width=1.5), hoverinfo="skip", **ax))
traces.append(go.Scatter(x=hx, y=hy, mode="lines", line=dict(color="#6a4ba0", width=2), hoverinfo="skip", **ax))
for color, pts, sizes in c_clusters:
    traces.append(go.Scatter(x=[p[0] for p in pts], y=[p[1] for p in pts], mode="markers",
                             marker=dict(size=[s + 1.5 for s in sizes], opacity=1, color=color, line=dict(color="#2f5d62", width=0.8)), **ax))
ovl = new_axes((0, W), (0, H), dict(hidden, range=[0, W]), dict(hidden, range=[H, 0]))
for label, color, y in zip(c_legend_labels, c_legend_colors, c_legend_y):
    note(555, y, label, 9.6, color="#333")
    if color:
        traces.append(go.Scatter(x=[549], y=[y], mode="markers", marker=dict(symbol="square", size=8, color=color, line=dict(width=0)), **ovl))

# ---------------------------------------------------------------- panel D
CX, CY = 1032, 807
ax = new_axes((790, W), (550, 1050), dict(hidden, range=[790 - CX, W - CX]), dict(hidden, range=[CY - 1050, CY - 550]))


def arc(r, a1, a2, n=8):
    ts = np.radians(np.linspace(a1, a2, n))
    return (r * np.sin(ts)).tolist(), (r * np.cos(ts)).tolist()


def wedge(r1, r2, a1, a2, color):
    x1, y1 = arc(r2, a1, a2, max(3, int(abs(a2 - a1)) + 2))
    x2, y2 = arc(r1, a2, a1, max(3, int(abs(a2 - a1)) + 2))
    traces.append(go.Scatter(x=x1 + x2 + [x1[0]], y=y1 + y2 + [y1[0]], mode="lines", fill="toself", fillcolor=color,
                             line=dict(width=0.3, color=color), hoverinfo="skip", **ax))


def bez(p, q, n=30):
    t = np.linspace(0, 1, n)
    return ((1 - t) ** 2 * p[0] + t ** 2 * q[0]).tolist(), ((1 - t) ** 2 * p[1] + t ** 2 * q[1]).tolist()


def pol(r, a):
    return r * math.sin(math.radians(a)), r * math.cos(math.radians(a))


R_IN = 170
gene_step = 180 / len(genes)
members = {i: [] for i in range(len(pathways))}
for gi, (name, paths) in enumerate(genes):
    for p in paths:
        members[p].append(gi)
starts = np.concatenate([[0], np.cumsum(pathway_arcs)])
rib_x = {i: [] for i in range(len(pathways))}
rib_y = {i: [] for i in range(len(pathways))}
for p in range(len(pathways)):
    gs = sorted(members[p])
    slot = pathway_arcs[p] / len(gs)
    for k, gi in enumerate(gs):
        r1 = starts[p] + k * slot
        r2 = r1 + slot
        paths = genes[gi][1]
        idx = paths.index(p)
        g0 = 180 + gi * gene_step
        margin = 0.3 if gi >= first_strand_gene else 0
        w = (gene_step - 2 * margin) / len(paths)
        l1 = g0 + margin + idx * w
        l2 = l1 + w
        ax1, ay1 = arc(R_IN, r1, r2, 4)
        bx1, by1 = bez(pol(R_IN, r2), pol(R_IN, l2))
        ax2, ay2 = arc(R_IN, l2, l1, 4)
        bx2, by2 = bez(pol(R_IN, l1), pol(R_IN, r1))
        rib_x[p] += ax1 + bx1 + ax2 + bx2 + [None]
        rib_y[p] += ay1 + by1 + ay2 + by2 + [None]
for p in [9, 8, 7, 6, 5, 3, 2, 1, 4, 0]:
    traces.append(go.Scatter(x=rib_x[p], y=rib_y[p], mode="lines", fill="toself", fillcolor=pathway_colors[p],
                             line=dict(width=0.5, color=pathway_colors[p]), hoverinfo="skip", **ax))
for p in range(len(pathways)):
    wedge(181, 191, starts[p], starts[p + 1], pathway_colors[p])
    wedge(172, 181, starts[p], starts[p + 1], pathway_pvalue_colors[p])
gene_ring = sample_colorscale("Magma", [i / (len(genes) - 1) for i in range(len(genes))])
for gi, (name, paths) in enumerate(genes):
    a0 = 180 + gi * gene_step
    wedge(172, 191, a0, a0 + gene_step, gene_ring[gi])
    mid = a0 + gene_step / 2
    rr = 193 + len(name) * 6.3 / 2
    tx, ty = pol(rr, mid)
    note(CX + tx, CY - ty, name, 11.5, SERIF, "#222", "center", mid - 270)
ax_cb = new_axes((1233, 1365), (631, 650),
                 dict(range=[1.9, 10.7], tickvals=d_colorbar_ticks, ticks="outside", ticklen=5, showgrid=False, zeroline=False, showline=False, tickcolor="#555",
                      tickfont=dict(family=SERIF, size=12, color="#333")),
                 dict(hidden, range=[0, 1]))
cb_edges = np.linspace(1.9, 10.7, 28)
cb_cent = ((cb_edges[:-1] + cb_edges[1:]) / 2).tolist()
traces.append(go.Heatmap(x=cb_cent, y=[0.5], z=[cb_cent], colorscale="OrRd", zmin=1.9, zmax=10.7, showscale=False, hoverinfo="skip", **ax_cb))
note(1298, 625, "-log10(pvalue)", 11.5, SERIF, "#333", "center")
note(1233, 684, "KEGG Pathways", 12, SERIF, "#333")
for label, color, y in zip(pathways, pathway_colors, d_legend_y):
    note(1246, y, label, 11, SERIF, "#333")
    traces.append(go.Scatter(x=[1238], y=[y], mode="markers", marker=dict(size=11, color=color, line=dict(width=0)), **ovl))

# ---------------------------------------------------------------- panel E
for x0, y0, x1, y1 in [(8, 1152, 487, 1507), (222, 1152, 687, 1546), (485, 1134, 805, 1487)]:
    shapes.append(dict(type="rect", xref="paper", yref="paper", x0=x0 / W, x1=x1 / W, y0=1 - y1 / H, y1=1 - y0 / H, fillcolor="#f9f9f9", line=dict(width=0), layer="below"))
shapes.append(dict(type="rect", xref="paper", yref="paper", x0=716 / W, x1=772 / W, y0=1 - 1486 / H, y1=1 - 1325 / H, fillcolor="#ffffff", line=dict(width=0), layer="below"))
ax = new_axes((0, 810), (1130, 1546), dict(hidden, range=[0, 2430]), dict(hidden, range=[1248, 0]))
ex, ey = [], []
for g in e_groups:
    n = len(g["names"])
    pairs = [(i, j) for i in range(n) for j in range(i + 1, n)] if g["edges"] == "all" else g["edges"]
    for i, j in pairs:
        ex += [g["xs"][i], g["xs"][j], None]
        ey += [g["ys"][i], g["ys"][j], None]
for a, b in e_links:
    ex += [a[0], b[0], None]
    ey += [a[1], b[1], None]
traces.append(go.Scatter(x=ex, y=ey, mode="lines", line=dict(color="rgba(126,92,178,0.6)", width=1.1), hoverinfo="skip", **ax))
for g in e_groups:
    traces.append(go.Scatter(x=g["xs"], y=g["ys"], text=g["names"], mode="markers+text", textposition="middle right", cliponaxis=False,
                             textfont=dict(family=SANS, size=9, color="#444"),
                             marker=dict(size=g["size"], color=g["color"], line=dict(color=g["line"], width=1)), **ax))
for i, (label, color) in enumerate(zip(mcode_labels, mcode_colors)):
    y = 1332 + i * 11.35
    note(729, y, label, 10.5, color="#333")
    traces.append(go.Scatter(x=[724], y=[y], mode="markers", marker=dict(symbol="square", size=8, color=color, line=dict(width=0)), **ovl))

# ---------------------------------------------------------------- panel F
fonts = dict(family=SERIF, size=12, color="#222")
fr = dict(framed, linewidth=1.2)
ax = new_axes((873, 1377), (1097, 1261),
              dict(fr, range=[-956, 49204], tickvals=f_xticks, showticklabels=False, ticks="", showgrid=True, gridcolor="#ececec"),
              dict(fr, range=[-0.672, 0.0677], tickvals=[-0.6, -0.5, -0.4, -0.3, -0.2, -0.1, 0.0], tickformat=".1f", showgrid=True, gridcolor="#ececec", tickfont=fonts,
                   title=dict(text="Enrichment score", font=dict(family=SERIF, size=11.5, color="#222"), standoff=2)))
traces.append(go.Scatter(x=[-956, 49204], y=[0, 0], mode="lines", line=dict(color="#888", width=0.8, dash="dot"), hoverinfo="skip", **ax))
for series, color in [(es_red, es_colors[0]), (es_sky, es_colors[1]), (es_green, es_colors[2]), (es_navy, es_colors[3]), (es_salmon, es_colors[4])]:
    traces.append(go.Scatter(x=es_rank, y=series, mode="lines", line=dict(color=color, width=2), **ax))
ax = new_axes((873, 1377), (1261, 1344.5),
              dict(fr, range=[-956, 49204], showticklabels=False, ticks="", showgrid=False),
              dict(fr, range=[5, 0], tickvals=[1, 2, 3, 4], showticklabels=False, ticks="", showgrid=True, gridcolor="#111", gridwidth=1.2))
for row in range(5):
    hx_, hy_ = [], []
    for v in hits_sparse[row]:
        hx_ += [v, v, None]
        hy_ += [row + 0.06, row + 0.94, None]
    alpha = 0.5 if row == 3 else 0.7
    traces.append(go.Scatter(x=hx_, y=hy_, mode="lines", line=dict(color=es_colors[row], width=2.2 if row == 3 else 1.3), opacity=alpha, hoverinfo="skip", **ax))
    bl = hits_blocks[row]
    traces.append(go.Bar(x=[(a + b) / 2 for a, b in bl], width=[b - a for a, b in bl], y=[0.88] * len(bl), base=[row + 0.06] * len(bl),
                         marker=dict(color=es_colors[row], opacity=hit_block_opacity[row], line=dict(width=0)), hoverinfo="skip", **ax))
    note(882, 1261 + 16.7 * row + 10.5, gene_set_labels[row].replace("  ", " \u00a0"), 11.8, SERIF, "#222")
ax = new_axes((873, 1377), (1344.5, 1508),
              dict(fr, range=[-956, 49204], tickvals=f_xticks, tickformat=",d", showgrid=True, gridcolor="#ececec", tickfont=fonts,
                   title=dict(text="Rank in Ordered DataSet", font=dict(family=SERIF, size=11.5, color="#222"), standoff=4)),
              dict(fr, range=[-2.04, 1.68], tickvals=[-1.5, -1, -0.5, 0, 0.5, 1], tickformat=".1f", showgrid=True, gridcolor="#ececec", tickfont=fonts,
                   title=dict(text="Ranked list metric", font=dict(family=SERIF, size=11.5, color="#222"), standoff=2)))
traces.append(go.Scatter(x=metric_rank, y=metric_value, mode="lines", fill="tozeroy", fillcolor="#c9c9c9", line=dict(color="#c9c9c9", width=1), **ax))
note(886, 1360, "C1", 11.5, SERIF)
note(1349, 1495, "C2", 11.5, SERIF)

# legend marks of panel A
traces.append(go.Scatter(x=[541], y=[71], mode="markers", marker=dict(symbol="triangle-down", size=18, color="#1e8755", line=dict(width=0)), **ovl))
traces.append(go.Scatter(x=[541], y=[100], mode="markers", marker=dict(symbol="triangle-up", size=18, color="#e64b35", line=dict(width=0)), **ovl))

# panel letters
for letter, x, y in [("A", 7, 15), ("B", 728, 14), ("C", 0, 613), ("D", 807, 578), ("E", 7, 1103), ("F", 824, 1089)]:
    note(x, y, letter, 27, SANS, "#000", bold=True)

fig = go.Figure(traces)
fig.update_layout(width=W, height=H, margin=dict(l=0, r=0, t=0, b=0), paper_bgcolor="white", plot_bgcolor="rgba(0,0,0,0)", showlegend=False,
                  annotations=annotations, shapes=shapes, bargap=0, barmode="overlay", **layout_axes)
fig.write_html("out.html", config=dict(displayModeBar=False),
               post_script="document.body.style.margin='0';document.body.style.overflow='hidden';")
